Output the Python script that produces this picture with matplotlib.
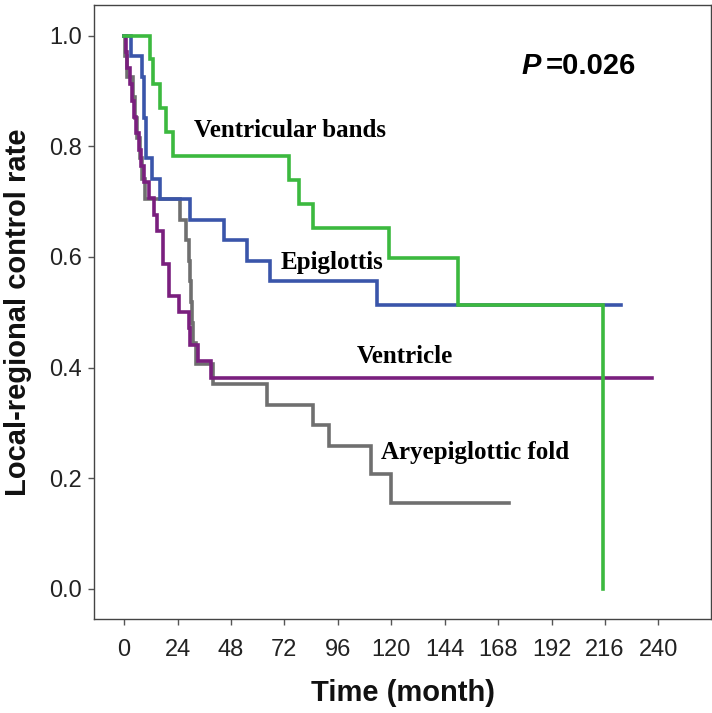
import matplotlib
matplotlib.use("Agg")
import matplotlib.pyplot as plt

# ---- data ----
months_ticks = [0, 24, 48, 72, 96, 120, 144, 168, 192, 216, 240]
rate_ticks = [0.0, 0.2, 0.4, 0.6, 0.8, 1.0]

# Ventricular bands
vb_times = [11.5, 13, 16, 19, 22, 74, 78.5, 85, 119, 150, 215]
vb_surv = [0.957, 0.913, 0.870, 0.826, 0.783, 0.739, 0.696, 0.652, 0.598, 0.514, 0.0]
vb_end = 215

# Epiglottis
ep_times = [3, 8, 9, 10, 12.5, 16, 29.5, 45, 55, 65.5, 113.5]
ep_surv = [0.963, 0.926, 0.852, 0.778, 0.741, 0.704, 0.667, 0.630, 0.593, 0.556, 0.514]
ep_end = 223

# Ventricle
ve_times = [0.7, 1.5, 2.5, 3.5, 4.5, 5.5, 6.5, 7.5, 9, 11, 13.5, 15, 17.5, 20, 24.5, 29, 29.8, 33, 39]
ve_surv = [0.971, 0.941, 0.912, 0.882, 0.853, 0.824, 0.794, 0.765, 0.735, 0.706,
           0.676, 0.647, 0.588, 0.529, 0.500, 0.471, 0.441, 0.412, 0.382]
ve_end = 237

# Aryepiglottic fold
ar_times = [0.5, 1.5, 4, 5, 6, 7, 8, 9.5, 25, 28, 29, 29.5, 30, 30.5, 31, 32.5, 40, 64, 85, 92, 111, 120]
ar_surv = [0.963, 0.926, 0.889, 0.852, 0.815, 0.778, 0.741, 0.704, 0.667, 0.630, 0.593,
           0.556, 0.519, 0.481, 0.444, 0.407, 0.370, 0.333, 0.296, 0.259, 0.207, 0.155]
ar_end = 173

labels = ["Ventricular bands", "Epiglottis", "Ventricle", "Aryepiglottic fold"]
p_text = "=0.026"

# ---- plotting ----
fig = plt.figure(figsize=(7.12, 7.13), dpi=100)
ax = fig.add_axes([0.1327, 0.1313, 0.998 - 0.1327, 0.9935 - 0.1313])

def curve(times, surv, end):
    t = [0] + list(times) + [end]
    s = [1.0] + list(surv) + [surv[-1]]
    return t, s

lw = 2.6
for (tt, ss, ee, col) in [
    (ar_times, ar_surv, ar_end, "#6f6f6f"),
    (ve_times, ve_surv, ve_end, "#7a1f7e"),
    (ep_times, ep_surv, ep_end, "#3a55aa"),
    (vb_times, vb_surv, vb_end, "#3cb93f"),
]:
    t, s = curve(tt, ss, ee)
    ax.step(t, s, where="post", color=col, lw=lw, solid_joinstyle="miter")

ax.set_xlim(-13.3, 263.4)
ax.set_ylim(-0.055, 1.056)
ax.set_xticks(months_ticks)
ax.set_xticklabels([str(m) for m in months_ticks])
ax.set_yticks(rate_ticks)
ax.set_yticklabels([f"{v:.1f}" for v in rate_ticks])
ax.tick_params(axis="both", labelsize=17, length=4, width=1, color="#555555",
               labelcolor="#222222")
ax.tick_params(axis="x", pad=10)
ax.tick_params(axis="y", pad=5)
for lab in ax.get_xticklabels() + ax.get_yticklabels():
    lab.set_fontfamily("Liberation Sans")
for sp in ax.spines.values():
    sp.set_color("#444444")
    sp.set_linewidth(1.0)

ax.set_xlabel("Time (month)", fontsize=21, fontweight="bold", family="Liberation Sans",
              color="#111111", labelpad=13)
ax.set_ylabel("Local-regional control rate", fontsize=21, fontweight="bold",
              family="Liberation Sans", color="#111111", labelpad=12)

serif = dict(family="Liberation Serif", fontweight="bold", fontsize=18, color="black",
             va="center", ha="left")
ax.text(31.5, 0.829, labels[0], **serif)
ax.text(70.5, 0.590, labels[1], **serif)
ax.text(104.5, 0.420, labels[2], **serif)
ax.text(115.5, 0.247, labels[3], **serif)

ax.text(178.5, 0.946, "P", fontsize=21, fontweight="bold", fontstyle="italic",
        family="Liberation Sans", ha="left", va="center")
ax.text(189.5, 0.946, p_text, fontsize=21, fontweight="bold",
        family="Liberation Sans", ha="left", va="center")

fig.savefig("out.png", dpi=100)
